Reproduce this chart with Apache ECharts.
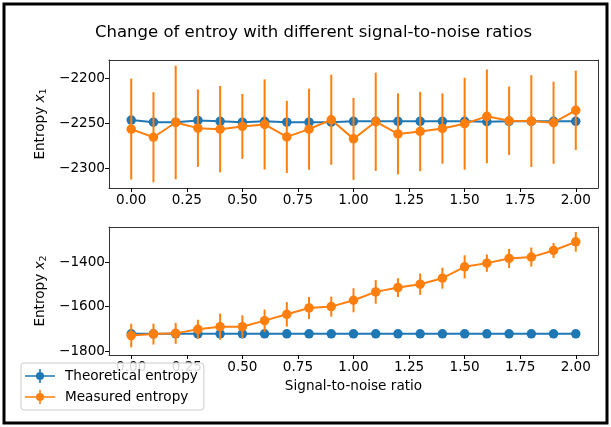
<!DOCTYPE html>
<html>
<head>
<meta charset="utf-8">
<script src="https://cdn.jsdelivr.net/npm/echarts@6/dist/echarts.min.js"></script>
<style>
  html, body { margin: 0; padding: 0; background: #fff; }
  #chart { width: 611px; height: 427px; }
</style>
</head>
<body>
<div id="chart"></div>
<script>
// signal-to-noise ratio
var snr = [0.0, 0.1, 0.2, 0.3, 0.4, 0.5, 0.6, 0.7, 0.8, 0.9, 1.0,
           1.1, 1.2, 1.3, 1.4, 1.5, 1.6, 1.7, 1.8, 1.9, 2.0];
var xTicks = [0, 0.25, 0.5, 0.75, 1.0, 1.25, 1.5, 1.75, 2.0];

// entropy x1 (top)
var theo1 = [-2246.6, -2249, -2249, -2247, -2248, -2249, -2248, -2249, -2249, -2249, -2248,
             -2248, -2248, -2248, -2248, -2248, -2248.5, -2248, -2248, -2248, -2248];
var theoErr1 = [2, 2, 2, 2, 2, 2, 2, 2, 2, 2, 2, 2, 2, 2, 2, 2, 2, 2, 2, 2, 2];
var meas1 = [-2256.7, -2265.7, -2249.3, -2255.6, -2256.7, -2253.7, -2251.5, -2265.3, -2256.7, -2246.3, -2267.5,
             -2248.5, -2262, -2259.3, -2256, -2250.7, -2242.5, -2247.4, -2247.8, -2249.6, -2235.8];
var measErr1 = [56, 50, 63, 43, 48, 36, 50, 40, 45, 50, 45.5,
                54.5, 45, 44, 39, 51, 52, 38, 51, 45.6, 44];
var yTicks1 = [-2300, -2250, -2200];

// entropy x2 (bottom)
var theo2 = [-1722, -1722, -1722, -1722, -1722, -1722, -1722, -1722, -1722, -1722, -1722,
             -1722, -1722, -1722, -1722, -1722, -1722, -1722, -1722, -1722, -1722];
var theoErr2 = [4, 4, 4, 4, 4, 4, 4, 4, 4, 4, 4, 4, 4, 4, 4, 4, 4, 4, 4, 4, 4];
var meas2 = [-1730, -1723, -1720, -1702, -1690, -1690, -1663, -1634.5, -1606, -1600, -1571.5,
             -1534, -1514.6, -1499.6, -1472.6, -1421.7, -1405, -1384, -1378, -1348.3, -1309.4];
var measErr2 = [53, 47, 47, 43, 59, 51, 50, 55, 50, 45, 54,
                53, 42, 48, 47, 52, 39, 43, 43, 34, 44];
var yTicks2 = [-1800, -1600, -1400];

var BLUE = '#1f77b4', ORANGE = '#ff7f0e';
var FONT = 'DejaVu Sans';
var FS = 13.6;

function pts(ys) {
  return snr.map(function (x, i) { return [x, ys[i]]; });
}
function bars(ys, es) {
  return snr.map(function (x, i) { return [x, ys[i] - es[i], ys[i] + es[i]]; });
}
function minus(v) { return String(v).replace('-', '\u2212'); }

function errSeries(name, ys, es, color, idx, z) {
  return {
    name: name, type: 'custom', xAxisIndex: idx, yAxisIndex: idx, z: z,
    itemStyle: { color: color },
    data: bars(ys, es),
    renderItem: function (params, api) {
      var a = api.coord([api.value(0), api.value(1)]);
      var b = api.coord([api.value(0), api.value(2)]);
      return { type: 'line', shape: { x1: a[0], y1: a[1], x2: b[0], y2: b[1] },
               style: { stroke: color, lineWidth: 2 } };
    }
  };
}
function lineSeries(name, ys, color, idx, z) {
  return {
    name: name, type: 'line', xAxisIndex: idx, yAxisIndex: idx, z: z,
    data: pts(ys), symbol: 'circle', symbolSize: 9.5, showSymbol: true,
    lineStyle: { color: color, width: 2 }, itemStyle: { color: color },
    emphasis: { disabled: true }
  };
}

var spine = { show: true, onZero: false, lineStyle: { color: '#333', width: 1 } };

function xAxis(idx, withName) {
  return {
    type: 'value', gridIndex: idx, min: -0.1, max: 2.1, position: 'bottom',
    name: withName ? 'Signal-to-noise ratio' : '', nameLocation: 'middle', nameGap: 24,
    nameTextStyle: { fontFamily: FONT, fontSize: FS, color: '#000' },
    axisLine: spine, splitLine: { show: false },
    axisTick: { customValues: xTicks, length: 4, lineStyle: { color: '#000' } },
    axisLabel: { customValues: xTicks, fontFamily: FONT, fontSize: FS, color: '#000', margin: 5,
                 formatter: function (v) { return v.toFixed(2); } }
  };
}
function yAxis(idx, min, max, ticks, sub) {
  return {
    type: 'value', gridIndex: idx, min: min, max: max, position: 'left',
    name: '{a|Entropy }{i|x}{s|' + sub + '}', nameLocation: 'middle', nameRotate: 90, nameGap: 58,
    nameTextStyle: { rich: {
      a: { fontFamily: FONT, fontSize: FS, color: '#000' },
      i: { fontFamily: FONT, fontSize: FS, fontStyle: 'italic', color: '#000' },
      s: { fontFamily: FONT, fontSize: 9.5, color: '#000', padding: [6, 0, 0, 0] }
    } },
    axisLine: spine, splitLine: { show: false },
    axisTick: { customValues: ticks, length: 4, lineStyle: { color: '#000' } },
    axisLabel: { customValues: ticks, fontFamily: FONT, fontSize: FS, color: '#000', margin: 4,
                 formatter: minus }
  };
}
// plain top / right spines closing each box
function xSpine(idx) {
  return { type: 'value', gridIndex: idx, min: -0.1, max: 2.1, position: 'top',
           axisLine: spine, axisTick: { show: false }, axisLabel: { show: false }, splitLine: { show: false } };
}
function ySpine(idx, min, max) {
  return { type: 'value', gridIndex: idx, min: min, max: max, position: 'right',
           axisLine: spine, axisTick: { show: false }, axisLabel: { show: false }, splitLine: { show: false } };
}

var legendIcon = 'path://M0 6.2h30v1.6H0z M14.2 0h1.6v14h-1.6z M19 7a4 4 0 1 1 -8 0a4 4 0 1 1 8 0z';

var chart = echarts.init(document.getElementById('chart'));
chart.setOption({
  animation: false,
  backgroundColor: '#fff',
  title: {
    text: 'Change of entroy with different signal-to-noise ratios',
    left: 90, top: 19,
    textStyle: { fontFamily: FONT, fontSize: 16.5, fontWeight: 'normal', color: '#000' }
  },
  graphic: [{
    type: 'rect', shape: { x: 4, y: 4, width: 603, height: 419 },
    style: { fill: 'none', stroke: '#000', lineWidth: 3 }, z: 100
  }],
  legend: {
    orient: 'vertical', left: 21, top: 363, padding: [6, 6, 6, 4], itemGap: 7,
    itemWidth: 30, itemHeight: 14,
    backgroundColor: 'rgba(255,255,255,0.85)', borderColor: '#ccc', borderWidth: 1, borderRadius: 3,
    textStyle: { fontFamily: FONT, fontSize: FS, color: '#000', padding: [0, 0, 0, 5] },
    data: [
      { name: 'Theoretical entropy', icon: legendIcon, itemStyle: { color: BLUE } },
      { name: 'Measured entropy', icon: legendIcon, itemStyle: { color: ORANGE } }
    ],
    z: 20
  },
  grid: [
    { left: 109, top: 60, width: 489, height: 128 },
    { left: 109, top: 227, width: 489, height: 128 }
  ],
  xAxis: [xAxis(0, false), xAxis(1, true), xSpine(0), xSpine(1)],
  yAxis: [yAxis(0, -2322, -2180, yTicks1, '1'), yAxis(1, -1817, -1243, yTicks2, '2'),
          ySpine(0, -2322, -2180), ySpine(1, -1817, -1243)],
  series: [
    errSeries('Theoretical entropy', theo1, theoErr1, BLUE, 0, 2),
    lineSeries('Theoretical entropy', theo1, BLUE, 0, 3),
    errSeries('Measured entropy', meas1, measErr1, ORANGE, 0, 4),
    lineSeries('Measured entropy', meas1, ORANGE, 0, 5),
    errSeries('Theoretical entropy', theo2, theoErr2, BLUE, 1, 2),
    lineSeries('Theoretical entropy', theo2, BLUE, 1, 3),
    errSeries('Measured entropy', meas2, measErr2, ORANGE, 1, 4),
    lineSeries('Measured entropy', meas2, ORANGE, 1, 5)
  ]
});
</script>
</body>
</html>
